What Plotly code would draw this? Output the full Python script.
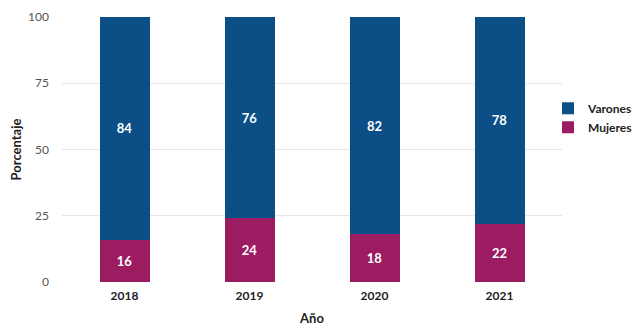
import plotly.graph_objects as go

years = ["2018", "2019", "2020", "2021"]
mujeres = [16, 24, 18, 22]
varones = [84, 76, 82, 78]
yticks = [0, 25, 50, 75, 100]

FONT = "Lato, Open Sans, sans-serif"
fig = go.Figure()
fig.add_trace(go.Bar(x=years, y=mujeres, name="Mujeres", marker_color="#9C1C62",
                     marker_line_width=0, width=0.4,
                     text=mujeres, textposition="inside", insidetextanchor="middle",
                     textfont=dict(color="white", size=13, family=FONT, weight="bold")))
fig.add_trace(go.Bar(x=years, y=varones, name="Varones", marker_color="#0B4F86",
                     marker_line_width=0, width=0.4,
                     text=varones, textposition="inside", insidetextanchor="middle",
                     textfont=dict(color="white", size=13, family=FONT, weight="bold")))

fig.update_layout(
    barmode="stack",
    width=634, height=326,
    margin=dict(l=62, r=72, t=17, b=44, autoexpand=False),
    plot_bgcolor="white", paper_bgcolor="white",
    font=dict(family=FONT, size=12, color="#333333"),
    legend=dict(x=1.152, y=0.62, yanchor="middle", xanchor="right", traceorder="reversed",
                font=dict(size=12, color="#222222", weight="bold"),
                itemwidth=30, tracegroupgap=0, borderwidth=0),
    xaxis=dict(showgrid=False, showline=False, ticks="",
               tickfont=dict(size=12, color="#222222", weight="bold"),
               ticklabelstandoff=5,
               title=dict(text="Año", font=dict(size=13, color="#222222", weight="bold"), standoff=13)),
    yaxis=dict(range=[0, 100], tickvals=yticks, showgrid=True, gridcolor="#E6E6E6",
               zeroline=False, ticks="", tickfont=dict(size=12, color="#555555"),
               ticklabelstandoff=12,
               title=dict(text="Porcentaje", font=dict(size=13, color="#222222", weight="bold"), standoff=3)),
    showlegend=True,
)

fig.write_html("out.html", config={"displayModeBar": False},
               post_script="document.body.style.margin='0';document.body.style.overflow='hidden';")
